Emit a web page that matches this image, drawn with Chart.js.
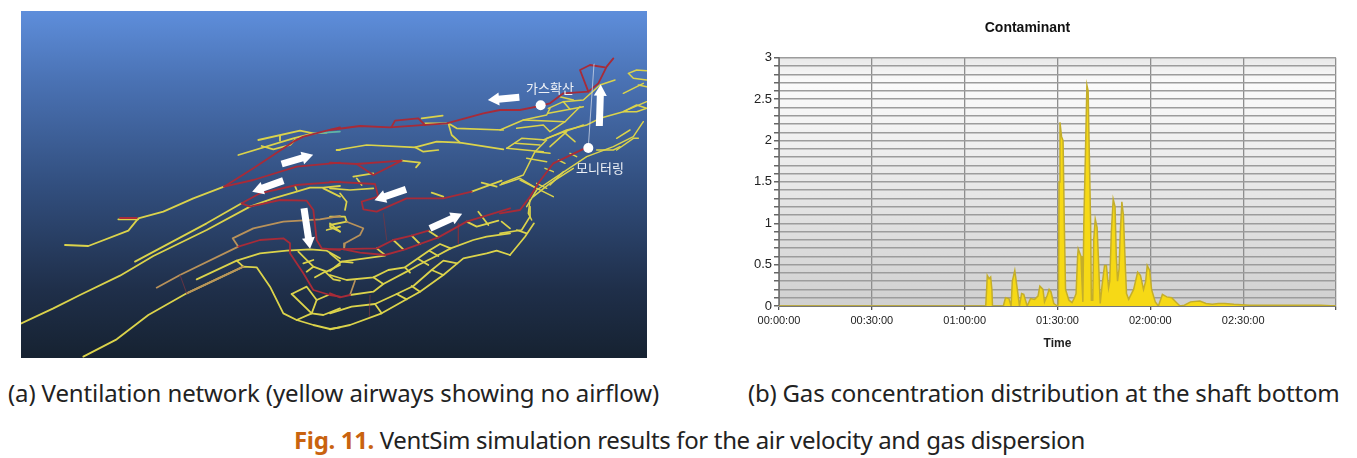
<!DOCTYPE html>
<html><head><meta charset="utf-8">
<style>
html,body{margin:0;padding:0;background:#fff;width:1357px;height:458px;overflow:hidden}
canvas{position:absolute;display:block}
.cap{position:absolute;white-space:nowrap;font-family:"Noto Sans","Open Sans",sans-serif;color:#222;font-size:24px;line-height:30px}
#a{left:8px;top:378px;letter-spacing:-.12px}
#b{left:748px;top:378px;letter-spacing:-.2px}
#f{left:294px;top:425px;letter-spacing:-.35px}
#f b{color:#c9630f;font-weight:700}
</style></head><body>
<canvas id="net" width="626" height="347" style="left:21px;top:11px;width:626px;height:347px"></canvas>
<canvas id="gas" width="638" height="345" style="left:719px;top:10px;width:638px;height:345px"></canvas>
<div class="cap" id="a">(a) Ventilation network (yellow airways showing no airflow)</div>
<div class="cap" id="b">(b) Gas concentration distribution at the shaft bottom</div>
<div class="cap" id="f"><b>Fig. 11.</b> VentSim simulation results for the air velocity and gas dispersion</div>
<script src="https://cdn.jsdelivr.net/npm/chart.js@4"></script>
<script>
// ---- panel (b) data ----
const timeMinutes=[0,66.8,67.1,67.3,67.9,68.4,68.8,69,72.5,73.2,74.3,75,75.4,76.2,77.2,77.7,78.4,79.1,80.2,81.3,82.6,83.7,84.3,85.3,85.8,86.7,87.3,87.9,88.8,90,90.3,90.5,90.8,91.3,91.8,92.2,92.6,93.7,94.7,95.5,96,96.5,96.7,97.6,97.9,98.2,98.5,99,99.5,99.9,100.3,100.7,100.95,101.4,101.7,102.2,102.8,103.2,103.8,104.4,105.2,105.8,106.5,106.9,107.4,108,108.6,109,109.4,109.9,110.3,110.8,111.3,111.9,112.3,113,114.6,115.9,116.8,117.8,118.5,119,119.8,120.4,121.6,122.6,123.9,125.3,126.9,128.5,129.6,131,133,136,138,140,142,144,147,152,160,170,175,180];
const contaminant=[0,0,0.2,0.37,0.33,0.35,0.2,0,0,0.1,0.09,0,0.3,0.43,0.15,0,0.15,0.14,0,0.09,0.08,0.12,0.24,0.2,0.05,0.13,0.2,0.17,0.03,0,0.03,1.5,2.22,2.05,2,1,0.2,0.07,0.04,0.1,0.15,0.6,0.69,0.6,0.3,0.05,1,1.8,2.67,2.6,1.8,1,0.07,0.07,0.8,1.05,0.95,0.6,0.03,0.25,0.49,0.49,0.22,0.3,0.9,1.29,1.2,0.6,0.3,0.45,0.9,1.26,1.1,0.5,0.15,0.08,0.2,0.41,0.37,0.2,0.3,0.49,0.43,0.2,0.05,0,0.14,0.11,0.1,0.04,0,0.01,0.05,0.06,0.03,0.02,0.03,0.03,0.02,0.01,0.01,0.01,0.01,0];
const yLabelValues=[0,0.5,1,1.5,2,2.5,3];

// ---- panel (a) data: airway polylines, [x,y,x,y,...]
const yellowLeft=[
[0,942,100,895,180,855,300,797,400,738,560,660,690,590,760,565,830,545,870,533,910,533,960,528],
[345,755,560,640,665,580],
[135,705,205,708,325,662,355,625,430,605,520,565,612,530],
[295,628,355,628],
[190,1040,290,988,385,915,500,850,670,770,710,772,750,830,790,910,830,930,880,945,930,957,960,952],
[530,808,650,752,720,730,800,722,870,718,920,722,960,745],
[650,752,670,770],
[715,390,840,362,880,370,920,368],
[655,435,820,385,880,370],
[725,408,760,418,810,405,825,390],
[780,378,780,392],
[815,852,860,830,890,870,875,910,830,930],
[815,852,875,910],[890,870,925,855],[875,910,910,915,960,895],
[835,725,880,770,920,785,960,765],[880,770,860,785],[850,760,880,750],[915,785,885,802],[915,785,940,808,960,812],
[920,660,960,650],[930,640,960,665],[910,535,960,560],[825,528,830,540],[950,420,960,420]
];
const orangeLeft=[
[410,833,480,795,655,710,638,685,700,655,790,635,900,628,960,618],
[500,850,670,770]
];
const redLeft=[
[655,710,720,690,790,685,810,700,810,730,850,790,880,840,930,855,960,860],
[665,580,690,590,780,570,860,572,880,600,890,690,905,715,960,720],
[665,580,720,550,830,525,960,515],
[612,530,700,510,830,470,960,458],
[612,530,700,475,820,395,850,380,920,362,960,352],
[300,624,350,624]
];
const thinRedLeft=[[480,795,500,850]];
const cyanLeft=[[880,370,960,365]];
const yellowMiddle=[
[275,325,338,317],[285,340,350,340],
[355,340,380,355,520,360],
[355,340,365,375,390,398,520,418],
[20,420,110,405,255,412,320,395,390,398],[255,412,280,425,325,420],
[215,452,270,458,258,472],
[425,545,515,512],
[455,518,500,530],[305,548,340,560],
[70,500,130,490],[80,505,95,525],[0,535,60,540,130,535],[30,550,50,575,45,600],
[510,670,575,660,600,620,600,590],
[540,735,585,680,612,640],[560,660,590,670]
];
const redMiddle=[
[0,360,90,348,180,352,350,340,460,310,510,300],
[185,350,195,332,265,325,285,345],
[0,458,80,462,215,452,130,495,80,462],
[0,515,135,522,145,560,95,575,100,598,140,605,230,565,340,565,425,545]
];
const thinRedMiddle=[[160,610,170,690]];
// lower band
const yellowLower=[
[190,150,220,178],[245,137,270,162],[295,122,325,142],[140,175,165,195],
[165,197,35,215,0,243],[0,190,30,215],[35,215,68,218],
[0,255,50,270,130,262,175,240,225,232,300,180,330,162,362,175],
[130,262,160,282,230,245,265,225,325,195,362,175],
[225,232,240,248],[265,207,295,225],[298,182,325,198],
[60,315,130,305,160,282],
[0,370,65,350,135,342,200,312,250,288,305,240,340,212,382,220],
[0,418,60,405,155,370,235,325,270,305,340,255,382,220,400,205,470,190,500,182,540,195],
[135,342,155,370],[200,312,230,328],[245,288,270,305],[305,240,340,255],
[362,175,430,150,470,140,540,130],
[410,95,440,110,505,92],[445,65,475,105],[515,95,540,115],
[0,80,45,80,50,95],[0,105,50,95],[0,110,30,125]
];
const orangeLower=[[50,95,100,115,90,135,45,160,42,178],[60,315,75,272]];
const redLower=[
[0,178,140,175,190,150,245,137,295,122],
[42,178,90,188,165,195,225,178,325,142,410,95,540,55],
[0,310,30,322,60,315]
];
const thinRedLower=[[120,315,118,380],[385,100,385,160]];
// upper right
const yellowUpper=[
[145,175,190,155,250,150,300,105,345,90],
[145,190,250,170],[180,140,220,150],[190,155,210,178],
[0,240,70,210,140,195,150,175],[70,210,195,215],
[50,235,130,225,150,245,195,215,240,170],
[20,295,65,265,140,270,105,305,150,310],[20,295,130,305],[45,280,120,285],
[130,270,200,240,260,225,300,205,370,185,440,155],[140,265,180,250,250,225],
[190,245,225,275],[370,185,410,165,440,175,410,185,370,185],
[105,305,70,375,5,400],[80,325,140,335],[150,290,200,245],
[0,405,60,385,110,415],[60,390,160,440],
[135,355,160,365],[175,330,195,340],[210,310,230,320],
[80,470,110,420,170,380,215,350,260,320,340,290,400,260,430,215],
[100,440,150,400,220,355],[150,405,190,365],[110,400,140,415],
[350,300,400,265,415,265],[290,300,340,300,360,290],[350,265,390,240],
[440,62,410,60,385,70,400,85,440,90],[415,105,440,110],[370,130,430,100],
[90,450,85,490,95,510]
];
const redUpper=[
[0,180,60,180,110,170,150,160,190,130,265,125,295,100,320,50,340,25],
[265,125,240,60,270,45,315,52],
[0,490,60,480,90,440,115,400,160,340,265,290]
];
const paleUpper=[[282,42,265,290]];
const arrowsLeft=[[785,462,878,435],[790,512,698,545],[852,595,870,715]];
const arrowsMiddle=[[228,538,135,570],[300,655,395,612],[568,262,475,270],[808,348,812,225]];
const dotsMiddle=[[632,286],[775,414]];
const placeNames=[["가스확산",550,88],["모니터링",600,168]];

const frame=(ox,oy)=>p=>{const o=[];for(let i=0;i<p.length;i+=2)o.push({x:ox+p[i]/3,y:oy+p[i+1]/3});return o};
const toLeft=frame(20,10),toMid=frame(330,10),toLow=frame(330,190),toUp=frame(500,50);
const lineSet=(data,color,w)=>({data,borderColor:color,borderWidth:w,pointRadius:0,showLine:true,fill:false,tension:0,borderJoinStyle:'round',borderCapStyle:'round'});
const netSets=[];
const add=(list,fn,color,w)=>list.forEach(p=>netSets.push(lineSet(fn(p),color,w)));
const Y='#dbd34b',O='#b9925a',R='#a82b38',T='#80343f';
add(yellowLeft,toLeft,Y,1.8);add(yellowMiddle,toMid,Y,1.7);add(yellowLower,toLow,Y,1.8);add(yellowUpper,toUp,Y,1.5);
add(orangeLeft,toLeft,O,1.8);add(orangeLower,toLow,O,1.7);
add(thinRedLeft,toLeft,T,.7);add(thinRedMiddle,toMid,T,.7);add(thinRedLower,toLow,T,.7);
add(cyanLeft,toLeft,'#5fb5a8',1.6);
add(redLeft,toLeft,R,1.8);add(redMiddle,toMid,R,1.8);add(redLower,toLow,R,1.9);add(redUpper,toUp,R,1.8);
add(paleUpper,toUp,'#c9d3e6',.8);
function arrowSet(pts){
  const a=pts[0],b=pts[1],dx=b.x-a.x,dy=b.y-a.y,len=Math.hypot(dx,dy);
  const c={x:b.x-dx/len*7,y:b.y-dy/len*7};
  const s=lineSet([a,c],'#ffffff',7);
  s.borderCapStyle='butt';
  s.pointRadius=[0,7.5];s.pointStyle='triangle';s.pointBackgroundColor='#fff';s.pointBorderColor='#fff';s.pointBorderWidth=0;
  s.pointRotation=Math.atan2(dx,-dy)*180/Math.PI;
  return s;
}
arrowsLeft.forEach(p=>netSets.push(arrowSet(toLeft(p))));
arrowsMiddle.forEach(p=>netSets.push(arrowSet(toMid(p))));
netSets.push({data:dotsMiddle.map(d=>toMid(d)[0]),pointRadius:5,pointBackgroundColor:'#fff',pointBorderWidth:0,showLine:false});
netSets.reverse(); // Chart.js paints the first dataset last

const skyPlugin={id:'sky',beforeDraw(c){
  const g=c.ctx.createLinearGradient(0,0,0,c.height);
  g.addColorStop(0,'#5e8edb');g.addColorStop(.2,'#4a72b4');g.addColorStop(.5,'#324f7f');g.addColorStop(.8,'#1f2f4a');g.addColorStop(1,'#162231');
  c.ctx.fillStyle=g;c.ctx.fillRect(0,0,c.width,c.height);
}};
const namePlugin={id:'names',afterDraw(c){
  const x=c.scales.x,y=c.scales.y,ctx=c.ctx;
  ctx.save();ctx.font='13px "Noto Sans CJK KR"';ctx.fillStyle='#eef1f6';ctx.textAlign='center';ctx.textBaseline='middle';
  placeNames.forEach(n=>ctx.fillText(n[0],x.getPixelForValue(n[1]),y.getPixelForValue(n[2])));
  ctx.restore();
}};
new Chart(document.getElementById('net'),{type:'scatter',data:{datasets:netSets},plugins:[skyPlugin,namePlugin],
 options:{responsive:false,animation:false,events:[],layout:{padding:0,autoPadding:false},
  plugins:{legend:{display:false},tooltip:{enabled:false}},
  scales:{x:{type:'linear',display:false,min:21,max:647},y:{type:'linear',display:false,min:11,max:358,reverse:true}}}});

const plotShade={id:'plotShade',beforeDraw(c){
  const a=c.chartArea,ctx=c.ctx,g=ctx.createLinearGradient(0,a.top,0,a.bottom);
  g.addColorStop(0,'#e8e8e8');g.addColorStop(.1,'#fbfbfb');g.addColorStop(1,'#d0d0d0');
  ctx.fillStyle=g;ctx.fillRect(a.left,a.top,a.right-a.left,a.bottom-a.top);
}};
const pad=n=>String(n).padStart(2,'0');
const F='"Liberation Sans",Arial,sans-serif';
new Chart(document.getElementById('gas'),{type:'scatter',
 data:{datasets:[{data:timeMinutes.map((t,i)=>({x:t,y:contaminant[i]})),showLine:true,fill:'origin',tension:0,pointRadius:0,borderWidth:1.5,borderColor:'#c4ae2a',backgroundColor:'#f6d916'}]},
 plugins:[plotShade],
 options:{responsive:false,animation:false,events:[],
  layout:{padding:{left:0,right:21,top:0,bottom:0},autoPadding:false},
  plugins:{legend:{display:false},tooltip:{enabled:false},
   title:{display:true,text:'Contaminant',color:'#111',font:{family:F,size:14,weight:'bold'},padding:{top:10,bottom:21}}},
  scales:{
   x:{type:'linear',min:0,max:180,
    afterBuildTicks(s){s.ticks=[];for(let m=0;m<=180;m+=30)s.ticks.push({value:m})},
    grid:{color:'#8e8e8e',lineWidth:1.3,tickLength:4,tickColor:'#555'},border:{color:'#777'},
    ticks:{maxRotation:0,autoSkip:false,color:'#222',font:{family:F,size:11},padding:4,
     callback:v=>v>=180?'':pad(Math.floor(v/60))+':'+pad(v%60)+':00'},
    title:{display:true,text:'Time',color:'#222',font:{family:F,size:12,weight:'bold'},padding:{top:2,bottom:4}},
    afterFit(s){s.height=49}},
   y:{type:'linear',min:0,max:3,
    afterBuildTicks(s){s.ticks=[];for(let i=0;i<=30;i++)s.ticks.push({value:i/10})},
    grid:{color:'#9c9c9c',lineWidth:1.5,tickLength:5,tickColor:'#666'},border:{color:'#777'},
    ticks:{autoSkip:false,color:'#222',font:{family:F,size:13},padding:2,
     callback:v=>yLabelValues.some(k=>Math.abs(k-v)<1e-6)?String(Math.round(v*10)/10):''},
    afterFit(s){s.width=60}}
  }}});
</script>
</body></html>
